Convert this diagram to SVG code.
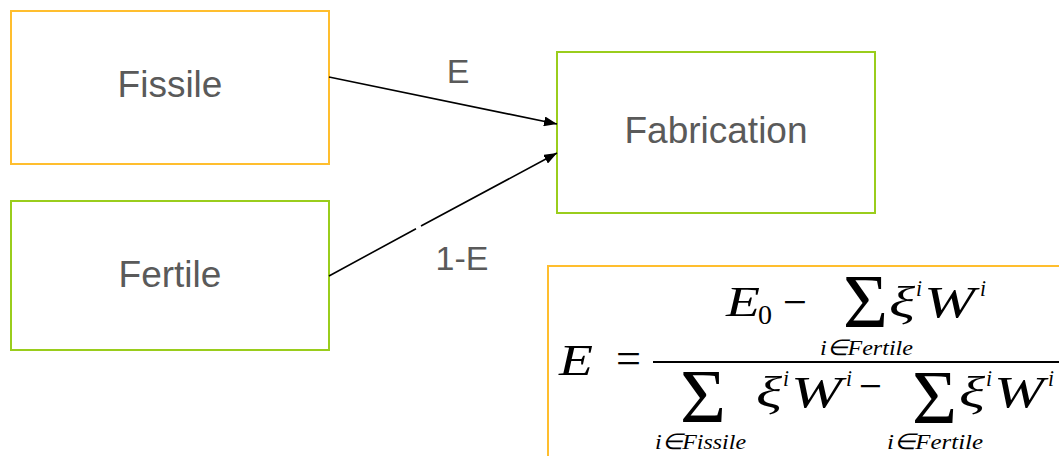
<svg xmlns="http://www.w3.org/2000/svg" width="1059" height="456" viewBox="0 0 1059 456">
<style>
.box{fill:#fff;stroke-width:2}
.or{stroke:#FFBE2E}
.gr{stroke:#9ACD1C}
.lbl{font-family:"Liberation Sans",Arial,sans-serif;fill:#5A5A5A;text-anchor:middle}
.m{font-family:"Liberation Serif","Times New Roman",serif;fill:#000}
.it{font-style:italic}
.big{font-size:44px}
.sm{font-size:24px}
.sub{font-size:22px;font-style:italic}
.sig{font-size:76px}
.conn{stroke:#000;stroke-width:1.6;fill:none}
</style>
<defs>
<marker id="ah" viewBox="0 0 10 10" refX="10" refY="5" markerWidth="13" markerHeight="10" markerUnits="userSpaceOnUse" orient="auto" preserveAspectRatio="none">
<path d="M0,0 L10,5 L0,10 z" fill="#000"/>
</marker>
</defs>
<rect width="1059" height="456" fill="#fff"/>
<g id="fissile">
<rect class="box or" x="11" y="11" width="318" height="153"/>
<text class="lbl" x="170" y="97" font-size="37">Fissile</text>
</g>
<g id="fertile">
<rect class="box gr" x="11" y="201" width="318" height="149"/>
<text class="lbl" x="170" y="287" font-size="37">Fertile</text>
</g>
<g id="fabrication">
<rect class="box gr" x="557" y="52" width="318" height="161"/>
<text class="lbl" x="716" y="143" font-size="37">Fabrication</text>
</g>
<g id="connectors">
<path class="conn" d="M329,77 L557,124" marker-end="url(#ah)"/>
<path class="conn" d="M329,276 L416,228.7 M421,226 L557,153" marker-end="url(#ah)"/>
<text class="lbl" x="458" y="83" font-size="34">E</text>
<text class="lbl" x="462" y="270" font-size="34">1-E</text>
</g>
<g id="formula">
<rect x="548" y="266" width="530" height="210" fill="#fff" stroke="#FFBE2E" stroke-width="2"/>
<text class="m it big" x="559" y="375" textLength="34" lengthAdjust="spacingAndGlyphs">E</text>
<text class="m big" x="616" y="373" textLength="25" lengthAdjust="spacingAndGlyphs">=</text>
<line x1="653" y1="362" x2="1065" y2="362" stroke="#000" stroke-width="2"/>
<text class="m it" x="726" y="316" font-size="43" textLength="34" lengthAdjust="spacingAndGlyphs">E</text>
<text class="m" x="758" y="324" font-size="28" textLength="14" lengthAdjust="spacingAndGlyphs">0</text>
<text class="m big" x="783" y="317" textLength="24" lengthAdjust="spacingAndGlyphs">−</text>
<text class="m sig" x="843" y="327" textLength="45" lengthAdjust="spacingAndGlyphs">Σ</text>
<text class="m it big" x="889" y="317" textLength="26" lengthAdjust="spacingAndGlyphs">ξ</text>
<text class="m it sm" x="916" y="296" textLength="6" lengthAdjust="spacingAndGlyphs">i</text>
<text class="m it big" x="924" y="317" textLength="51" lengthAdjust="spacingAndGlyphs">W</text>
<text class="m it sm" x="980" y="296" textLength="6" lengthAdjust="spacingAndGlyphs">i</text>
<text class="m sub" x="820" y="355" textLength="93" lengthAdjust="spacingAndGlyphs">i∈Fertile</text>
<text class="m sig" x="680" y="422" textLength="46" lengthAdjust="spacingAndGlyphs">Σ</text>
<text class="m sub" x="655" y="449" textLength="91" lengthAdjust="spacingAndGlyphs">i∈Fissile</text>
<text class="m it big" x="756" y="407" textLength="26" lengthAdjust="spacingAndGlyphs">ξ</text>
<text class="m it sm" x="783" y="386" textLength="6" lengthAdjust="spacingAndGlyphs">i</text>
<text class="m it big" x="791" y="407" textLength="51" lengthAdjust="spacingAndGlyphs">W</text>
<text class="m it sm" x="846" y="386" textLength="6" lengthAdjust="spacingAndGlyphs">i</text>
<text class="m big" x="859" y="401" textLength="23" lengthAdjust="spacingAndGlyphs">−</text>
<text class="m sig" x="912" y="423" textLength="45" lengthAdjust="spacingAndGlyphs">Σ</text>
<text class="m it big" x="959" y="407" textLength="26" lengthAdjust="spacingAndGlyphs">ξ</text>
<text class="m it sm" x="986" y="386" textLength="6" lengthAdjust="spacingAndGlyphs">i</text>
<text class="m it big" x="994" y="407" textLength="50" lengthAdjust="spacingAndGlyphs">W</text>
<text class="m it sm" x="1048" y="386" textLength="6" lengthAdjust="spacingAndGlyphs">i</text>
<text class="m sub" x="887" y="449" textLength="96" lengthAdjust="spacingAndGlyphs">i∈Fertile</text>
</g>
</svg>
